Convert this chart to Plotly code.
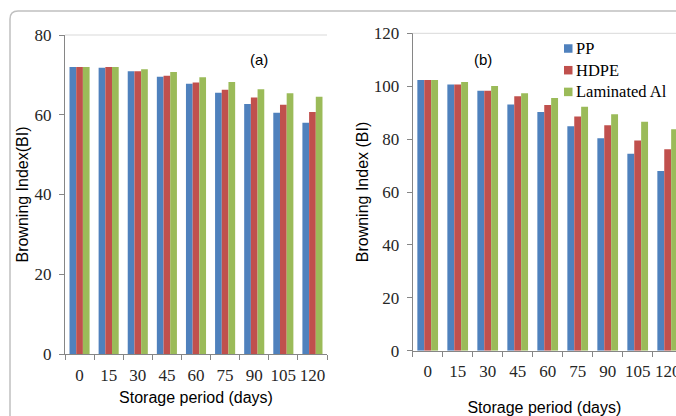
import plotly.graph_objects as go

days = ["0", "15", "30", "45", "60", "75", "90", "105", "120"]
series_names = ["PP", "HDPE", "Laminated Al"]
a_pp = [72.0, 71.8, 70.9, 69.5, 67.8, 65.5, 62.7, 60.5, 58.0]
a_hdpe = [72.0, 72.0, 70.9, 69.8, 68.1, 66.3, 64.3, 62.5, 60.7]
a_al = [72.0, 72.0, 71.4, 70.7, 69.4, 68.2, 66.4, 65.4, 64.5]
b_pp = [102.3, 100.6, 98.3, 93.1, 90.2, 84.9, 80.3, 74.5, 67.9]
b_hdpe = [102.3, 100.6, 98.3, 96.2, 92.9, 88.5, 85.2, 79.5, 76.2]
b_al = [102.3, 101.6, 100.1, 97.3, 95.5, 92.2, 89.4, 86.6, 83.7]
a_ticks = [0, 20, 40, 60, 80]
b_ticks = [0, 20, 40, 60, 80, 100, 120]

colors = ["#4F81BD", "#C0504D", "#9BBB59"]
W, H = 676, 416

fig = go.Figure()
for name, vals, col in zip(series_names, [a_pp, a_hdpe, a_al], colors):
    fig.add_trace(go.Bar(x=days, y=vals, name=name, marker_color=col,
                         marker_line_width=0, xaxis="x", yaxis="y",
                         showlegend=False))
for name, vals, col in zip(series_names, [b_pp, b_hdpe, b_al], colors):
    fig.add_trace(go.Bar(x=days, y=vals, name=name, marker_color=col,
                         marker_line_width=0, xaxis="x2", yaxis="y2",
                         showlegend=False))

serif = "Times New Roman, Liberation Serif, serif"
sans = "Liberation Sans"
axcol = "#868686"
tickcol = "#262626"

common_x = dict(type="category", showline=True, linecolor=axcol, linewidth=1,
                ticks="outside", tickson="boundaries", ticklen=5, tickcolor=axcol,
                showgrid=False, zeroline=False, tickangle=0, automargin=False,
                tickfont=dict(family=serif, size=17, color=tickcol))
common_y = dict(showline=True, linecolor=axcol, linewidth=1, ticks="outside",
                ticklen=5, tickcolor=axcol, showgrid=False, zeroline=False,
                automargin=False, ticklabelstandoff=4,
                tickfont=dict(family=serif, size=17, color=tickcol))

fig.update_layout(
    width=W, height=H, margin=dict(l=0, r=0, t=0, b=0, autoexpand=False),
    paper_bgcolor="white", plot_bgcolor="white",
    barmode="group", bargap=0.31, bargroupgap=0,
    showlegend=False,
    xaxis=dict(common_x, domain=[65 / W, 327 / W], anchor="y",
               range=[-0.5, 8.5], ticklabelstandoff=6,
               title=dict(text="Storage period (days)", standoff=7,
                          font=dict(family=sans, size=16, color="#000"))),
    yaxis=dict(common_y, domain=[(H - 354) / H, (H - 35) / H], anchor="x",
               range=[0, 80], tickvals=a_ticks,
               title=dict(text="Browning Index(BI)", standoff=1,
                          font=dict(family=sans, size=16, color="#000"))),
    xaxis2=dict(common_x, domain=[412.7 / W, 1.0], anchor="y2",
                range=[-0.5, -0.5 + (W - 412.7) / 30.0], ticklabelstandoff=5,
                title=dict(text="Storage period (days)", standoff=29,
                           font=dict(family=sans, size=16, color="#000"))),
    yaxis2=dict(common_y, domain=[(H - 350.7) / H, (H - 33.3) / H], anchor="x2",
                range=[0, 120], tickvals=b_ticks,
                title=dict(text="Browning Index (BI)", standoff=1,
                           font=dict(family=sans, size=16, color="#000"))),
)

fig.add_annotation(text="(a)", x=259 / W, y=(H - 59) / H, xref="paper", yref="paper",
                   xanchor="center", yanchor="middle", showarrow=False,
                   font=dict(family=sans, size=15, color="#000"))
fig.add_annotation(text="(b)", x=483 / W, y=(H - 59) / H, xref="paper", yref="paper",
                   xanchor="center", yanchor="middle", showarrow=False,
                   font=dict(family=sans, size=15, color="#000"))

# legend (panel b): colour keys + labels
leg_x, leg_y0, leg_dy, key = 564.0, 48.5, 21.7, 8.5
for i, (name, col) in enumerate(zip(series_names, colors)):
    yc = leg_y0 + i * leg_dy
    fig.add_shape(type="rect", xref="paper", yref="paper",
                  x0=leg_x / W, x1=(leg_x + key) / W,
                  y0=(H - yc - key / 2) / H, y1=(H - yc + key / 2) / H,
                  fillcolor=col, line=dict(width=0))
    fig.add_annotation(text=name, x=(leg_x + key + 1) / W, y=(H - yc) / H,
                       xref="paper", yref="paper", xanchor="left", yanchor="middle",
                       showarrow=False, font=dict(family=serif, size=16.5, color="#000"))

# top border lines of plot areas
for xr, yr in [("x domain", "y domain"), ("x2 domain", "y2 domain")]:
    fig.add_shape(type="line", xref=xr, yref=yr, x0=0, x1=1, y0=1, y1=1,
                  line=dict(color="#D9D9D9", width=1))

# outer rounded frame
x0 = 10 / W
yt = (H - 11) / H
rx, ry = 8 / W, 8 / H
fig.add_shape(type="path", xref="paper", yref="paper",
              path=f"M {x0},-0.1 L {x0},{yt - ry} Q {x0},{yt} {x0 + rx},{yt} L 1.1,{yt}",
              line=dict(color="#C0C0C0", width=1.5))

fig.write_html("out.html", config={"displayModeBar": False},
               post_script="document.body.style.margin='0';document.body.style.overflow='hidden';")
